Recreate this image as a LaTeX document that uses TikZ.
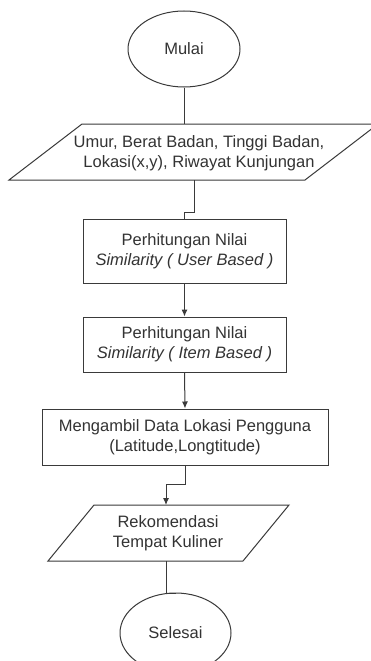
\documentclass[tikz,border=0pt]{standalone}
\usepackage{fontspec}
\setmainfont{Liberation Sans}
\usetikzlibrary{shapes.geometric,arrows.meta}
\definecolor{ln}{HTML}{3A3A3A}
\definecolor{tx}{HTML}{333333}
\begin{document}
\begin{tikzpicture}[x=1pt,y=-1pt,
 every node/.style={font=\fontsize{16.5}{20}\selectfont, text=tx, align=center},
 line/.style={draw=ln, line width=1pt},
 term/.style={ellipse, line, inner sep=0pt},
 proc/.style={rectangle, line, inner sep=0pt},
 iotext/.style={inner sep=0pt},
 arr/.style={line, -{Latex[length=7pt,width=6pt]}},
 ]
\clip (0,0) rectangle (371,661);
\fill[white] (0,0) rectangle (371,661);
% terminals and processes
\node[term, minimum width=112, minimum height=76] (start) at (184,49) {Mulai};
\node[proc, minimum width=203, minimum height=64] (p1) at (184.5,251) {Perhitungan Nilai\\\textit{Similarity ( User Based )}};
\node[proc, minimum width=203, minimum height=55] (p2) at (184.5,344.5) {Perhitungan Nilai\\\textit{Similarity ( Item Based )}};
\node[proc, minimum width=286, minimum height=56] (p3) at (185,437) {Mengambil Data Lokasi Pengguna\\(Latitude,Longtitude)};
\node[term, minimum width=111, minimum height=80] (end) at (175.5,633) {Selesai};
% input parallelogram
\draw[line] (82,124) -- (378,124) -- (305,180) -- (9,180) -- cycle;
\node[iotext] (in1) at (199,153) {Umur, Berat Badan, Tinggi Badan,\\Lokasi(x,y), Riwayat Kunjungan};
\coordinate (in1top) at (184,124);
\coordinate (in1bot) at (194.5,180);
% output parallelogram
\draw[line] (94,505) -- (289,505) -- (243,561) -- (48,561) -- cycle;
\node[iotext] (out) at (168,533.5) {Rekomendasi\\Tempat Kuliner};
\coordinate (outtop) at (166,505);
\coordinate (outbot) at (166,561);
% connectors
\draw[line] (start.south) -- (in1top);
\draw[line] (in1bot) -- ++(0,32) -| (p1.north);
\draw[arr] (p1.south) -- (p2.north);
\draw[arr] (p2.south) -- (p3.north);
\draw[arr] (p3.south) -- ++(0,19) -| (outtop);
\draw[line] (outbot) -- ++(0,32) -| (end.north);
\end{tikzpicture}
\end{document}
